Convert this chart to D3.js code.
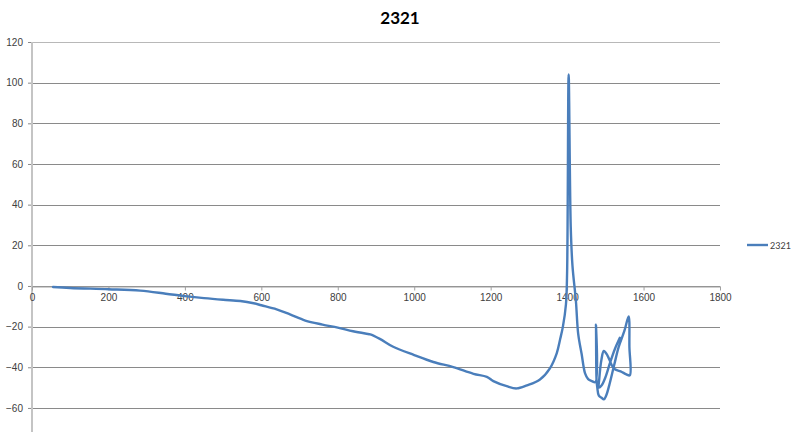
<!DOCTYPE html>
<html>
<head>
<meta charset="utf-8">
<script src="https://cdn.jsdelivr.net/npm/d3@7"></script>
<style>
  body { margin: 0; background: #fff; }
  svg { display: block; font-family: Lato, "Liberation Sans", sans-serif; }
  .tick text { fill: #404040; font-size: 10px; }
</style>
</head>
<body>
<script>
// series
const seriesName = "2321";
const xs = [55, 100, 200, 283, 350, 400, 450, 500, 545, 580, 600, 640, 675, 715, 760, 800, 840, 875, 885,
  910, 945, 1000, 1050, 1102, 1155, 1190, 1207, 1242, 1268, 1295, 1329, 1355, 1373, 1382, 1389, 1397, 1400,
  1404, 1409.5, 1414, 1423, 1429, 1438, 1447, 1455, 1465, 1474, 1475.5, 1477, 1479, 1483, 1490, 1496, 1502,
  1510, 1523, 1535, 1550, 1561, 1563, 1564, 1555, 1540, 1525, 1517, 1505, 1496, 1490, 1484, 1483, 1490,
  1500, 1512, 1525, 1538];
const ys = [-0.5, -1.0, -1.6, -2.3, -3.8, -5.0, -6.0, -6.8, -7.4, -8.5, -9.5, -11.5, -14, -17, -19, -20.5,
  -22.3, -23.5, -23.8, -26, -29.9, -34, -37.4, -39.9, -43.2, -44.7, -46.8, -49.3, -50.4, -48.9, -46, -40.5,
  -33, -26, -20, -9, 7, 104, 29, 10, -7.4, -23.6, -33.5, -43, -45.8, -46.8, -47.3, -19, -46, -50, -54, -55,
  -55.8, -54, -49, -39, -30, -22, -15, -30, -44, -43.5, -42, -41, -39, -34, -32, -36, -46, -50, -49, -45,
  -38, -31, -25.5];
const xTicks = [0, 200, 400, 600, 800, 1000, 1200, 1400, 1600, 1800];
const yTicks = [-60, -40, -20, 0, 20, 40, 60, 80, 100, 120];

const W = 800, H = 432;
const svg = d3.select("body").append("svg")
  .attr("width", W).attr("height", H);

const x = d3.scaleLinear().domain([0, 1800]).range([32, 720]);
const y = d3.scaleLinear().domain([-80, 120]).range([448.6, 42]);

// gridlines
svg.append("g")
  .selectAll("line")
  .data(yTicks)
  .enter().append("line")
    .attr("x1", x(0)).attr("x2", x(1800))
    .attr("y1", d => Math.round(y(d)) + 0.5)
    .attr("y2", d => Math.round(y(d)) + 0.5)
    .attr("stroke", d => d === 120 ? "#b8b8b8" : "#8a8a8a")
    .attr("stroke-width", 1);

// y axis
const yAxis = svg.append("g")
  .attr("transform", "translate(" + x(0) + ",0)")
  .call(d3.axisLeft(y).tickValues(yTicks).tickFormat(d3.format("d")).tickSize(4).tickPadding(5));
yAxis.select(".domain").remove();
yAxis.selectAll(".tick line").attr("stroke", "#8a8a8a");
svg.append("line")
  .attr("x1", x(0)).attr("x2", x(0))
  .attr("y1", y(120)).attr("y2", H)
  .attr("stroke", "#c4c4c4").attr("stroke-width", 2);

// x axis at zero
const xAxis = svg.append("g")
  .attr("transform", "translate(0," + (Math.round(y(0)) + 0.5) + ")")
  .call(d3.axisBottom(x).tickValues(xTicks).tickFormat(d3.format("d"))
    .tickSize(4).tickSizeOuter(0).tickPadding(3));
xAxis.select(".domain").attr("stroke", "#a0a0a0");
xAxis.selectAll(".tick line").attr("stroke", "#a0a0a0");

// the series
const pts = xs.map((v, i) => [v, ys[i]]);
svg.append("path")
  .datum(pts)
  .attr("fill", "none")
  .attr("stroke", "#4a7ebb")
  .attr("stroke-width", 2.4)
  .attr("stroke-linejoin", "round")
  .attr("stroke-linecap", "round")
  .attr("d", d3.line().x(d => x(d[0])).y(d => y(d[1])).curve(d3.curveCatmullRom.alpha(0.5)));

// title
svg.append("text")
  .attr("x", 400).attr("y", 24)
  .attr("text-anchor", "middle")
  .style("font-size", "17px").style("font-weight", "bold")
  .attr("fill", "#000")
  .text(seriesName);

// legend
svg.append("line")
  .attr("x1", 747).attr("x2", 768)
  .attr("y1", 245).attr("y2", 245)
  .attr("stroke", "#4a7ebb").attr("stroke-width", 2.4);
svg.append("text")
  .attr("x", 770).attr("y", 248.5)
  .style("font-size", "9px")
  .attr("fill", "#404040")
  .text(seriesName);
</script>
</body>
</html>
